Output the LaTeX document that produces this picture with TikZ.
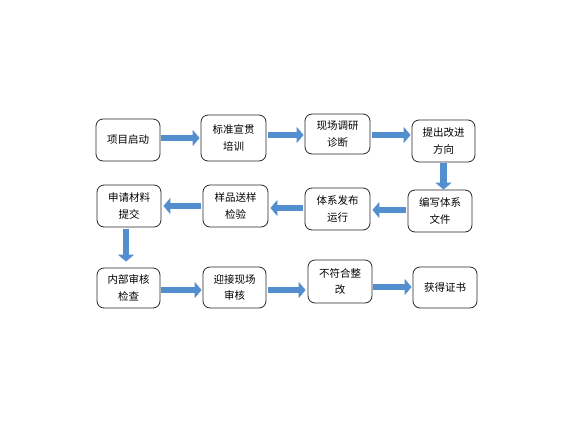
\documentclass[tikz,border=0pt]{standalone}
\usepackage{fontspec}
\newfontfamily\cjk{Noto Sans CJK SC}
\usetikzlibrary{arrows.meta}
\definecolor{arrblue}{RGB}{83,142,207}
\definecolor{boxline}{RGB}{40,40,40}
\tikzset{
  stepbox/.style={draw=boxline, line width=0.8pt, rounded corners=7pt, fill=white,
    align=center, inner sep=0pt, font=\cjk\fontsize{10.5}{16.5}\selectfont},
  blk/.style={draw=arrblue, line width=6.5pt, -{Triangle[length=7pt,width=16pt]}}
}
\begin{document}
\begin{tikzpicture}[x=1pt,y=-1pt]
\useasboundingbox (0,0) rectangle (576,432);
% row 1
\node[stepbox, minimum width=64pt, minimum height=42pt] (b1) at (128,140) {项目启动};
\node[stepbox, minimum width=65pt, minimum height=46pt] (b2) at (233.5,138) {标准宣贯\\培训};
\node[stepbox, minimum width=65pt, minimum height=40pt] (b3) at (337.5,134) {现场调研\\诊断};
\node[stepbox, minimum width=63pt, minimum height=42pt] (b4) at (443.5,141) {提出改进\\方向};
% row 2
\node[stepbox, minimum width=64pt, minimum height=42pt] (b5) at (440,211) {编写体系\\文件};
\node[stepbox, minimum width=65pt, minimum height=42pt] (b6) at (337.5,209) {体系发布\\运行};
\node[stepbox, minimum width=65pt, minimum height=42pt] (b7) at (235.5,206) {样品送样\\检验};
\node[stepbox, minimum width=64pt, minimum height=42pt] (b8) at (129,206) {申请材料\\提交};
% row 3
\node[stepbox, minimum width=63pt, minimum height=40pt] (b9) at (128.5,288) {内部审核\\检查};
\node[stepbox, minimum width=63pt, minimum height=41pt] (b10) at (234.5,287.5) {迎接现场\\审核};
\node[stepbox, minimum width=64pt, minimum height=43pt] (b11) at (340,281.5) {不符合整\\改};
\node[stepbox, minimum width=64pt, minimum height=41pt] (b12) at (445,287.5) {获得证书};
% arrows
\draw[blk] ([xshift=1pt,yshift=2pt]b1.east) -- ([xshift=-1pt,yshift=2pt]b1.east -| b2.west);
\draw[blk] ([xshift=2pt,yshift=3pt]b2.east) -- ([xshift=-1pt,yshift=3pt]b2.east -| b3.west);
\draw[blk] ([xshift=2pt,yshift=-1pt]b3.east) -- ([xshift=-1pt,yshift=-1pt]b3.east -| b4.west);
\draw[blk] ([yshift=-1pt]b4.south) -- (b4.south |- b5.north);
\draw[blk] ([xshift=-2pt,yshift=1pt]b5.west) -- ([xshift=2pt,yshift=1pt]b5.west -| b6.east);
\draw[blk] ([xshift=-2pt,yshift=1pt]b6.west) -- ([xshift=2pt,yshift=1pt]b6.west -| b7.east);
\draw[blk] ([xshift=-2pt]b7.west) -- ([xshift=2pt]b7.west -| b8.east);
\draw[blk] ([xshift=-3pt,yshift=-2pt]b8.south) -- ([xshift=-3pt,yshift=6pt]b8.south |- b9.north);
\draw[blk] ([xshift=1pt,yshift=-2pt]b9.east) -- ([xshift=-1pt,yshift=-2pt]b9.east -| b10.west);
\draw[blk] ([xshift=2pt,yshift=-2.5pt]b10.east) -- ([xshift=-2pt,yshift=-2.5pt]b10.east -| b11.west);
\draw[blk] ([xshift=1pt,yshift=-5.5pt]b11.east) -- ([xshift=-1pt,yshift=-5.5pt]b11.east -| b12.west);
\end{tikzpicture}
\end{document}
